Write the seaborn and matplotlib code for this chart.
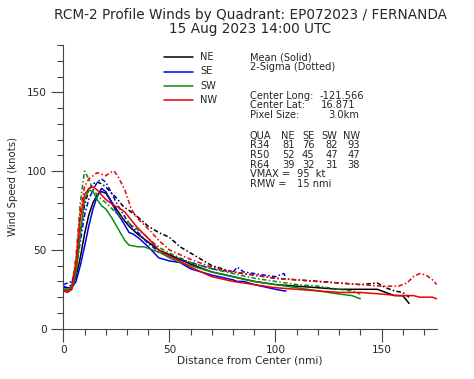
import pandas as pd
import seaborn as sns
import matplotlib.pyplot as plt
from matplotlib.lines import Line2D

sns.set_style("ticks")
plt.rcParams["font.family"] = ["DejaVu Sans"]

# radius (nmi) and wind speed (kt) per quadrant
ne_r = [0, 2, 4, 6, 8, 10, 12, 14, 16, 18, 20, 22, 25, 28, 31, 35, 40, 45, 50, 55, 60,
        70, 80, 90, 100, 110, 120, 130, 140, 148, 152, 156, 160, 163]
ne_mean = [25, 24, 26, 33, 45, 60, 72, 80, 85, 87, 86, 82, 76, 70, 65, 60, 55, 50, 47, 44, 41,
           36, 33, 30, 28, 27, 26, 25, 25, 25, 23, 21, 21, 16]
ne_sig = [26, 26, 28, 40, 60, 78, 88, 92, 93, 92, 90, 87, 83, 78, 75, 71, 65, 61, 58, 52, 48,
          40, 36, 34, 32, 31, 30, 29, 28, 29, 26, 24, 23, 20]

se_r = [0, 2, 4, 6, 8, 10, 12, 14, 16, 18, 20, 22, 25, 28, 31, 33, 36, 40, 45, 50, 55, 60,
        70, 80, 82, 85, 90, 100, 104, 105]
se_mean = [27, 26, 26, 30, 40, 52, 65, 76, 84, 89, 87, 82, 74, 68, 61, 60, 57, 52, 45, 43, 42, 38,
           34, 31, 30, 30, 28, 25, 24, 24]
se_sig = [28, 29, 30, 38, 55, 72, 82, 88, 93, 95, 93, 88, 80, 73, 67, 64, 60, 54, 49, 46, 44, 42,
          38, 36, 39, 36, 35, 33, 35, 32]

sw_r = [0, 2, 4, 6, 8, 10, 12, 14, 16, 18, 20, 23, 26, 29, 31, 35, 38, 42, 46, 50, 55, 60,
        70, 80, 90, 100, 110, 120, 130, 136, 140]
sw_mean = [25, 24, 25, 35, 60, 82, 88, 87, 82, 78, 76, 70, 63, 56, 53, 52, 52, 50, 48, 45, 42, 40,
           36, 33, 30, 28, 26, 24, 22, 21, 19]
sw_sig = [25, 25, 27, 45, 80, 100, 95, 88, 85, 82, 80, 76, 72, 69, 67, 63, 60, 55, 51, 48, 45, 42,
          38, 35, 32, 30, 28, 27, 25, 24, 22]

nw_r = [0, 2, 4, 6, 8, 10, 12, 14, 16, 18, 20, 22, 24, 26, 29, 32, 35, 38, 41, 45, 50, 55, 60,
        70, 80, 90, 100, 110, 120, 130, 140, 150, 158, 162, 165, 168, 171, 174, 176]
nw_mean = [24, 23, 25, 40, 70, 85, 89, 90, 88, 85, 82, 80, 78, 77, 74, 69, 64, 60, 56, 50, 46, 43, 39,
           33, 30, 28, 26, 25, 24, 23, 23, 22, 21, 21, 21, 20, 20, 20, 19]
nw_sig = [24, 24, 26, 45, 75, 90, 95, 97, 99, 98, 97, 99, 100, 96, 88, 76, 70, 66, 62, 56, 50, 47, 44,
          39, 36, 34, 32, 31, 30, 29, 28, 27, 27, 29, 33, 35, 34, 31, 28]

quads = ["NE", "SE", "SW", "NW"]
colors = ["black", "#0000ee", "#118811", "#ee0000"]
radii = [ne_r, se_r, sw_r, nw_r]
means = [ne_mean, se_mean, sw_mean, nw_mean]
sigmas = [ne_sig, se_sig, sw_sig, nw_sig]

W, H = 474, 379
fig = plt.figure(figsize=(W / 100, H / 100), dpi=100)
ax = fig.add_axes([63.3 / W, 1 - 328.7 / H, (436.7 - 63.3) / W, (328.7 - 45) / H])

for q, c, r, m, s in zip(quads, colors, radii, means, sigmas):
    df = pd.DataFrame({"r": r, "mean": m, "sig": s})
    sns.lineplot(data=df, x="r", y="sig", color=c, lw=1.1, ls=(0, (3, 1.5, 1, 1.5)), ax=ax)
    sns.lineplot(data=df, x="r", y="mean", color=c, lw=1.1, ax=ax)

ax.set_xlim(0, 176)
ax.set_ylim(0, 180)
ax.set_xticks([0, 50, 100, 150])
ax.set_yticks([0, 50, 100, 150])
ax.set_xticks(range(0, 177, 10), minor=True)
ax.set_yticks(range(0, 181, 10), minor=True)
ax.tick_params(which="major", length=9, width=0.8, labelsize=7.6, pad=3, color="#444444")
ax.tick_params(which="minor", length=4.5, width=0.8, color="#444444")
for side in ["top", "right"]:
    ax.spines[side].set_visible(False)
for side in ["left", "bottom"]:
    ax.spines[side].set_color("#444444")
    ax.spines[side].set_linewidth(0.8)
ax.set_xlabel("Distance from Center (nmi)", fontsize=7.6, labelpad=0)
ax.set_ylabel("Wind Speed (knots)", fontsize=7.3, labelpad=6)


def px(x, y):
    return x / W, 1 - y / H


fig.text(*px(250, 15), "RCM-2 Profile Winds by Quadrant: EP072023 / FERNANDA",
         ha="center", va="center", fontsize=9.8)
fig.text(*px(250, 29.5), "15 Aug 2023 14:00 UTC", ha="center", va="center", fontsize=9.8)

fs = 7.1

# legend
for i, (q, c) in enumerate(zip(quads, colors)):
    y = 57.3 + i * 14.2
    x0, y0 = px(164, y)
    x1, _ = px(193, y)
    fig.add_artist(Line2D([x0, x1], [y0, y0], color=c, lw=1.1, transform=fig.transFigure))
    fig.text(*px(200, y), q, ha="left", va="center", fontsize=fs)

fig.text(*px(250, 57), "Mean (Solid)", ha="left", va="center", fontsize=fs)
fig.text(*px(250, 66.7), "2-Sigma (Dotted)", ha="left", va="center", fontsize=fs)

info = [("Center Long:", "-121.566", 364), ("Center Lat:", "16.871", 355),
        ("Pixel Size:", "3.0km", 359)]
for i, (lab, val, xr) in enumerate(info):
    y = 95.7 + i * 9.7
    fig.text(*px(250, y), lab, ha="left", va="center", fontsize=fs)
    fig.text(*px(xr, y), val, ha="right", va="center", fontsize=fs)

table_rows = ["QUA", "R34", "R50", "R64"]
table_vals = [quads, ["81", "76", "82", "93"], ["52", "45", "47", "47"], ["39", "32", "31", "38"]]
col_right = [295, 314.5, 337.5, 360]
for i, (lab, vals) in enumerate(zip(table_rows, table_vals)):
    y = 135.7 + i * 9.7
    fig.text(*px(250, y), lab, ha="left", va="center", fontsize=fs)
    for xr, v in zip(col_right, vals):
        fig.text(*px(xr, y), v, ha="right", va="center", fontsize=fs)

fig.text(*px(250, 174.4), "VMAX =", ha="left", va="center", fontsize=fs)
fig.text(*px(296.7, 174.4), "95  kt", ha="left", va="center", fontsize=fs)
fig.text(*px(250, 184), "RMW =", ha="left", va="center", fontsize=fs)
fig.text(*px(296.7, 184), "15 nmi", ha="left", va="center", fontsize=fs)

fig.savefig("out.png", dpi=100)
